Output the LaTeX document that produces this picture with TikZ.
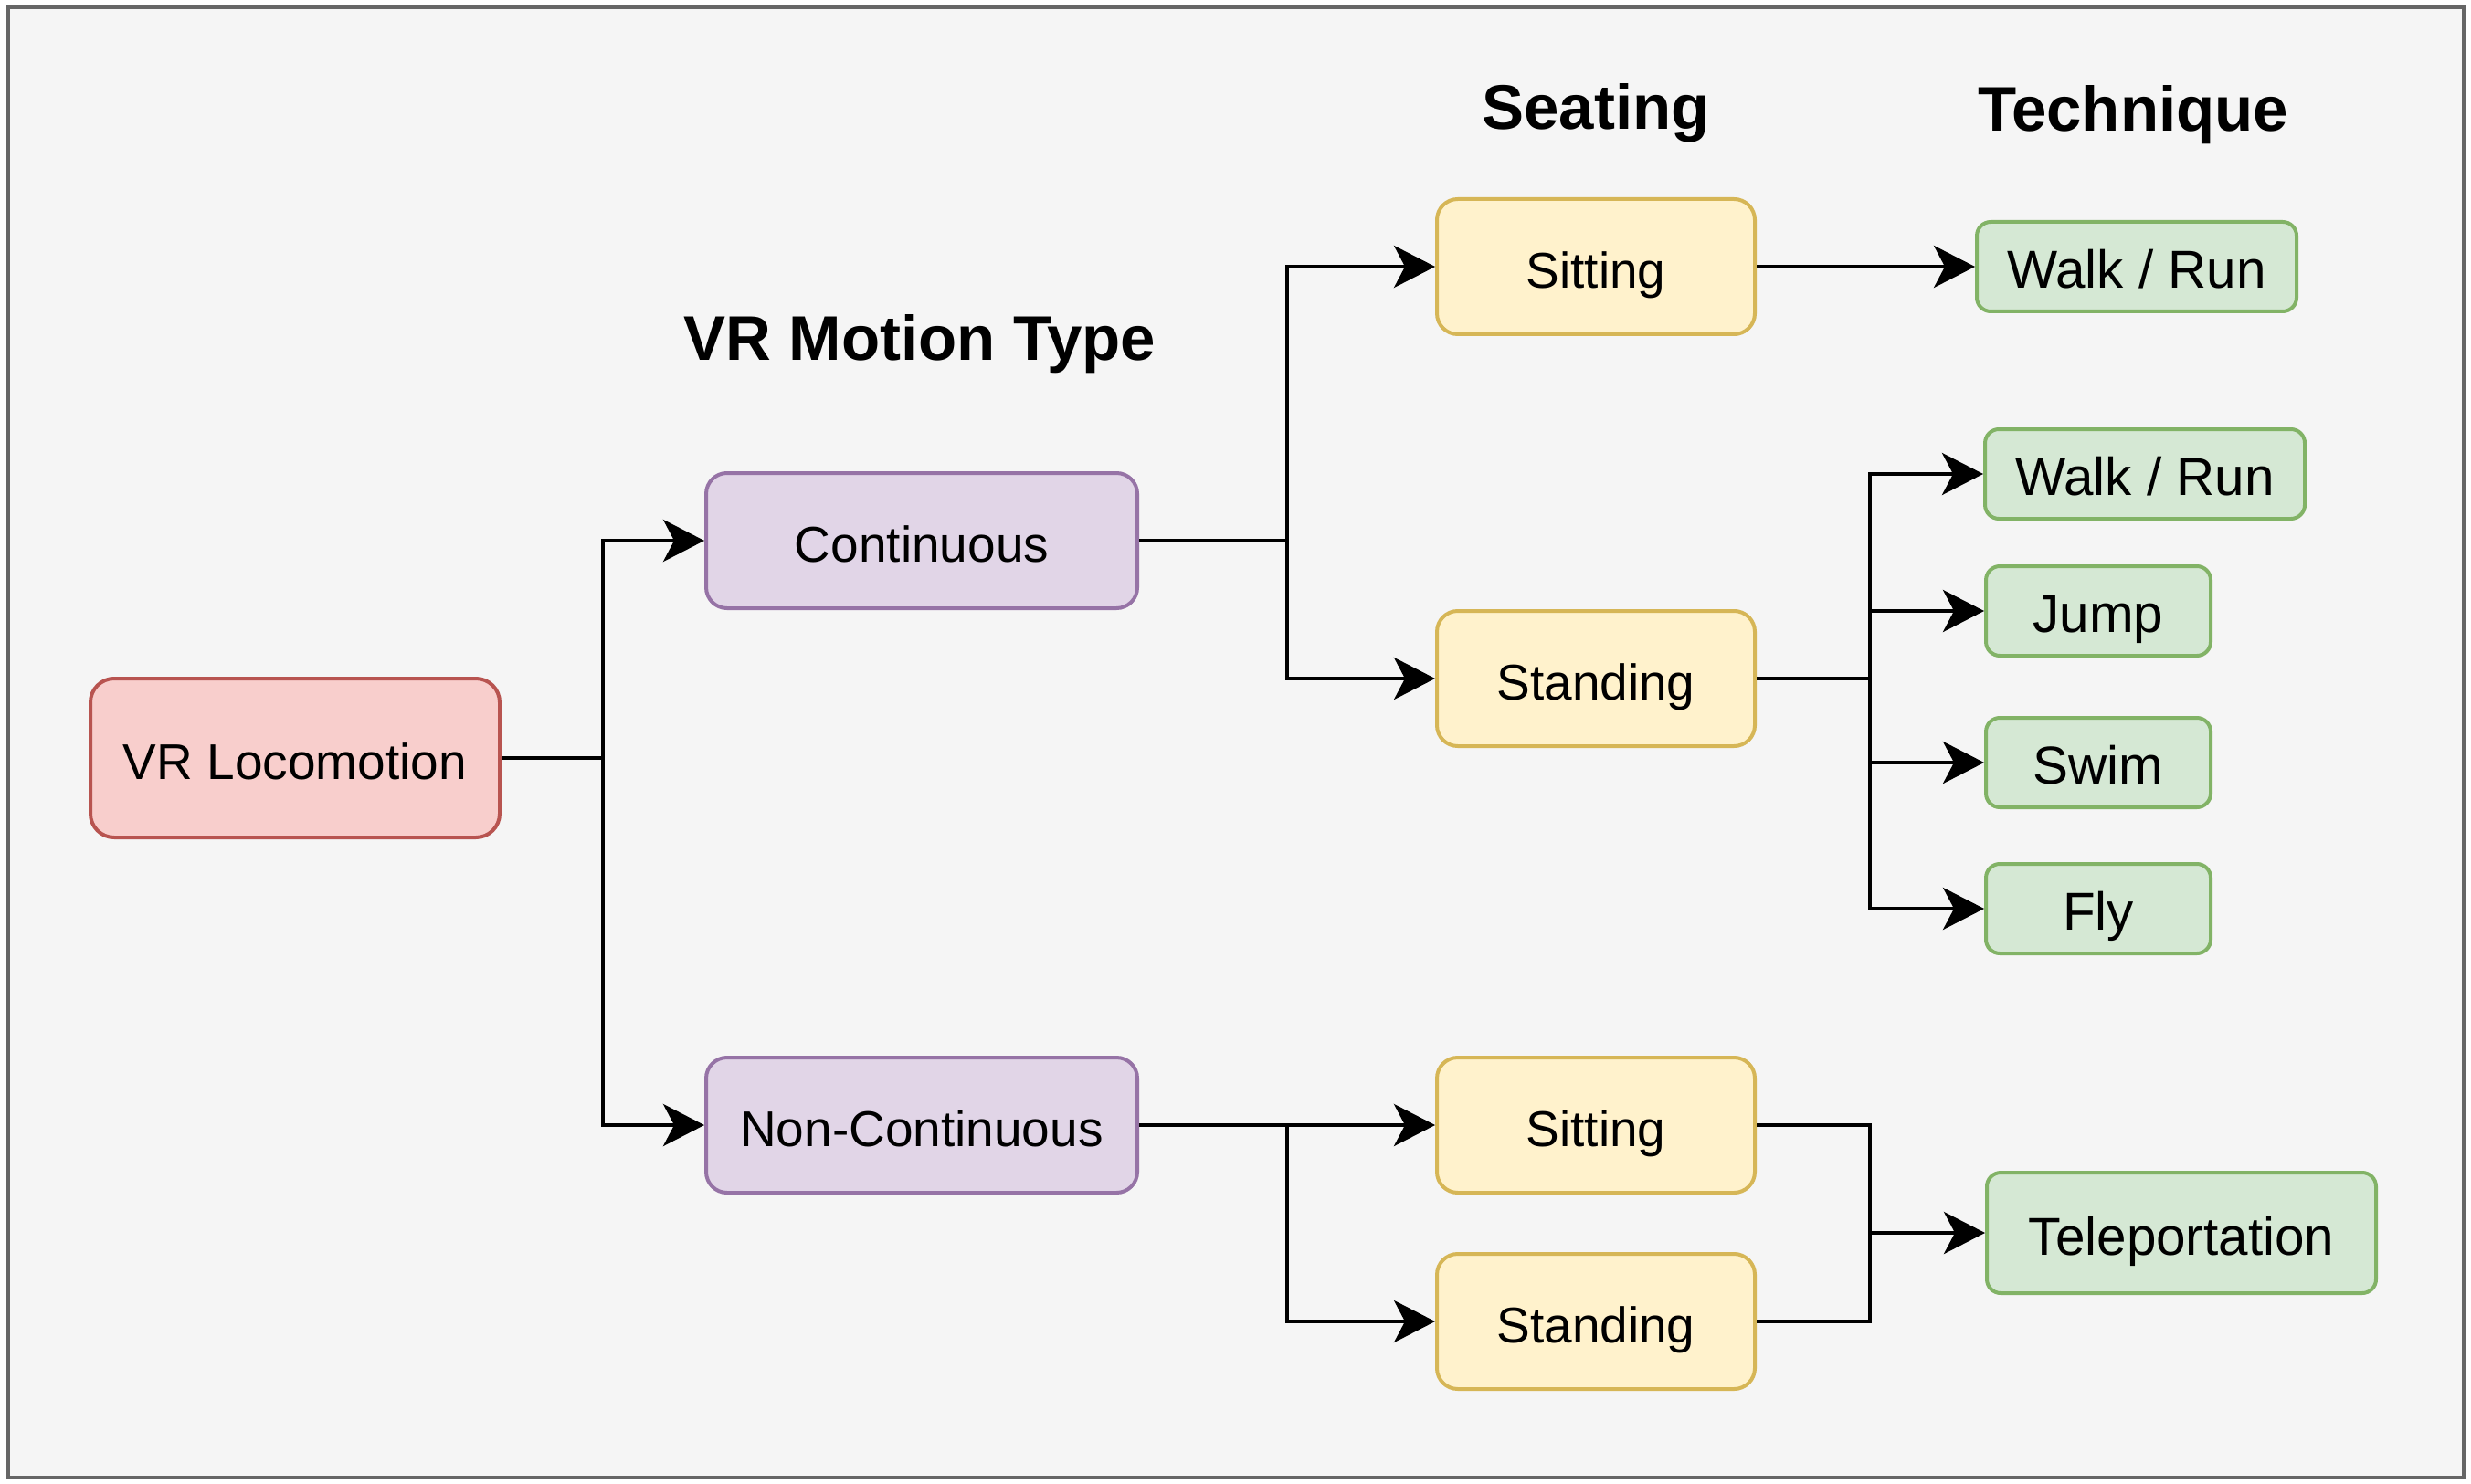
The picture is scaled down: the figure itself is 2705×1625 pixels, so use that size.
\documentclass[tikz,border=0pt]{standalone}
\usepackage{fontspec}
\setmainfont{Liberation Sans}
\usetikzlibrary{arrows.meta}
\definecolor{bgfill}{HTML}{F5F5F5}
\definecolor{bgline}{HTML}{666666}
\definecolor{redfill}{HTML}{F8CECC}
\definecolor{redline}{HTML}{B85450}
\definecolor{purfill}{HTML}{E1D5E7}
\definecolor{purline}{HTML}{9673A6}
\definecolor{yelfill}{HTML}{FFF2CC}
\definecolor{yelline}{HTML}{D6B656}
\definecolor{grnfill}{HTML}{D5E8D4}
\definecolor{grnline}{HTML}{82B366}
\begin{document}
\begin{tikzpicture}[x=0.25pt,y=-0.25pt,
  basebox/.style={draw, line width=1pt, inner sep=0pt, align=center, text height=11.8pt, text depth=0pt, font=\fontsize{13.75pt}{16pt}\selectfont},
  redbox/.style={basebox, fill=redfill, draw=redline, rounded corners=6.5pt, minimum width=112pt, minimum height=43.5pt},
  purbox/.style={basebox, fill=purfill, draw=purline, rounded corners=5.7pt, minimum width=118pt, minimum height=37pt},
  yelbox/.style={basebox, fill=yelfill, draw=yelline, rounded corners=5.7pt, minimum width=87pt, minimum height=37pt},
  grnbox/.style={basebox, fill=grnfill, draw=grnline, rounded corners=3.8pt, minimum height=24.5pt, text height=11.6pt, font=\fontsize{14.6pt}{17pt}\selectfont},
  heading/.style={inner sep=0pt, anchor=base, font=\fontsize{17.25pt}{20pt}\selectfont\bfseries},
  conn/.style={line width=1.05pt, -{Stealth[length=11.25pt,width=11.5pt,inset=3pt]}},
  wire/.style={line width=1.05pt}]
\useasboundingbox (0,0) rectangle (2705,1625);
\draw[fill=bgfill, draw=bgline, line width=1.2pt] (9,8) rectangle (2697,1618);

% headings
\node[heading] (hmotion) at (1007,395) {VR Motion Type};
\node[heading] (hseat) at (1747,142) {Seating};
\node[heading] (htech) at (2335,144) {Technique};

% nodes
\node[redbox] (loco) at (323,830) {VR Locomotion};
\node[purbox] (cont) at (1009,592) {Continuous};
\node[purbox] (noncont) at (1009,1232) {Non-Continuous};
\node[yelbox] (sit1) at (1747,292) {Sitting};
\node[yelbox] (stand1) at (1747,743) {Standing};
\node[yelbox] (sit2) at (1747,1232) {Sitting};
\node[yelbox] (stand2) at (1747,1447) {Standing};
\node[grnbox, minimum width=87.5pt] (wr1) at (2339,292) {Walk / Run};
\node[grnbox, minimum width=87.5pt] (wr2) at (2348,519) {Walk / Run};
\node[grnbox, minimum width=61.5pt] (jump) at (2297,669) {Jump};
\node[grnbox, minimum width=61.5pt] (swim) at (2297,835) {Swim};
\node[grnbox, minimum width=61.5pt] (fly) at (2297,995) {Fly};
\node[grnbox, minimum width=106.5pt, minimum height=33pt, text height=12.2pt] (tele) at (2388,1350) {Teleportation};

% junctions
\coordinate (j1) at (660,830);
\coordinate (j2) at (1409,592);
\coordinate (j3) at (1409,1232);
\coordinate (j4) at (2047,743);
\coordinate (j5) at (2047,1350);

% connectors
\draw[wire] (loco.east) -- (j1);
\draw[conn] (j1) |- (cont.west);
\draw[conn] (j1) |- (noncont.west);

\draw[wire] (cont.east) -- (j2);
\draw[conn] (j2) |- (sit1.west);
\draw[conn] (j2) |- (stand1.west);

\draw[conn] (noncont.east) -- (sit2.west);
\draw[conn] (j3) |- (stand2.west);

\draw[conn] (sit1.east) -- (wr1.west);

\draw[wire] (stand1.east) -- (j4);
\draw[conn] (j4) |- (wr2.west);
\draw[conn] (j4) |- (jump.west);
\draw[conn] (j4) |- (swim.west);
\draw[conn] (j4) |- (fly.west);

\draw[wire] (sit2.east) -| (j5);
\draw[wire] (stand2.east) -| (j5);
\draw[conn] (j5) -- (tele.west);
\end{tikzpicture}
\end{document}
